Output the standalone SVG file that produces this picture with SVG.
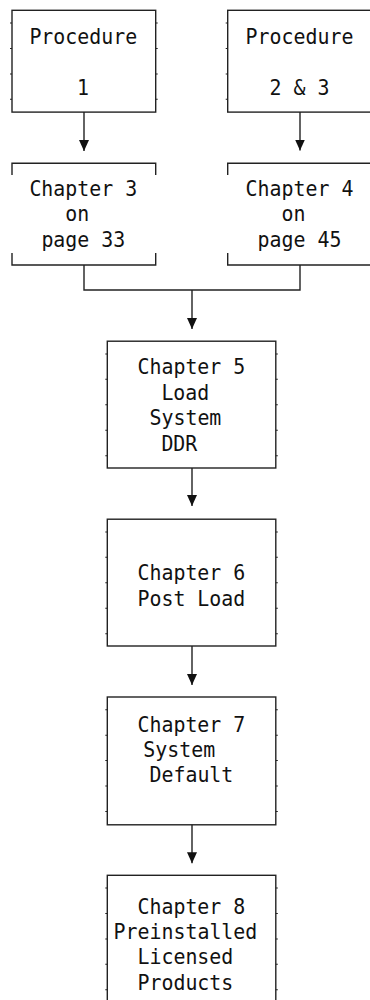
<svg xmlns="http://www.w3.org/2000/svg" width="370" height="1000" viewBox="0 0 370 1000">
  <defs>
    <style>
      .box { fill: none; stroke: #222; stroke-width: 1.4; }
      .nub { fill: none; stroke: #222; stroke-width: 2; stroke-dasharray: 0 12.2 1 12.25; }
      .wire { fill: none; stroke: #222; stroke-width: 1.4; }
      .arrow { marker-end: url(#head); }
      .t { font-family: "DejaVu Sans Mono", "Liberation Mono", monospace; font-size: 19.9px; fill: #111; }
    </style>
    <marker id="head" viewBox="0 0 11 10" refX="11" refY="5" markerWidth="11" markerHeight="10" markerUnits="userSpaceOnUse" orient="auto">
      <path d="M0,0 L11,5 L0,10 Z" fill="#111"/>
    </marker>
  </defs>
  <rect width="370" height="1000" fill="#fff"/>

  <!-- Procedure 1 -->
  <g id="proc1">
    <rect class="box" x="12" y="10.3" width="143.7" height="101.8"/>
    <line class="nub" x1="11" y1="10.3" x2="11" y2="112.1"/>
    <line class="nub" x1="156.7" y1="10.3" x2="156.7" y2="112.1"/>
    <text class="t" transform="matrix(1 0 0 1.07 29.4 44)">Procedure</text>
    <text class="t" transform="matrix(1 0 0 1.07 77 95)">1</text>
  </g>

  <!-- Procedure 2 & 3 -->
  <g id="proc23">
    <rect class="box" x="227.7" y="10.3" width="150" height="101.8"/>
    <line class="nub" x1="226.7" y1="10.3" x2="226.7" y2="112.1"/>
    <text class="t" transform="matrix(1 0 0 1.07 245.6 44)">Procedure</text>
    <text class="t" transform="matrix(1 0 0 1.07 269.5 95)">2 &amp; 3</text>
  </g>

  <!-- Chapter 3 -->
  <g id="ch3">
    <path class="box" d="M12,175 V163.3 H155.7 V175 M12,253 V265 H155.7 V253"/>
    <text class="t" transform="matrix(1 0 0 1.07 29.4 195.5)">Chapter 3</text>
    <text class="t" transform="matrix(1 0 0 1.07 65.3 221)">on</text>
    <text class="t" transform="matrix(1 0 0 1.07 41.4 246.5)">page 33</text>
  </g>

  <!-- Chapter 4 -->
  <g id="ch4">
    <path class="box" d="M227.7,175 V163.3 H378 M227.7,253 V265 H378"/>
    <text class="t" transform="matrix(1 0 0 1.07 245.6 195.5)">Chapter 4</text>
    <text class="t" transform="matrix(1 0 0 1.07 281.5 221)">on</text>
    <text class="t" transform="matrix(1 0 0 1.07 257.6 246.5)">page 45</text>
  </g>

  <!-- Chapter 5 -->
  <g id="ch5">
    <rect class="box" x="107.3" y="341.2" width="168.5" height="126.8"/>
    <line class="nub" x1="106.3" y1="341.2" x2="106.3" y2="468"/>
    <line class="nub" x1="276.8" y1="341.2" x2="276.8" y2="468"/>
    <text class="t" transform="matrix(1 0 0 1.07 137.5 374)">Chapter 5</text>
    <text class="t" transform="matrix(1 0 0 1.07 161.4 400)">Load</text>
    <text class="t" transform="matrix(1 0 0 1.07 149.5 425)">System</text>
    <text class="t" transform="matrix(1 0 0 1.07 161.4 450.5)">DDR</text>
  </g>

  <!-- Chapter 6 -->
  <g id="ch6">
    <rect class="box" x="107.3" y="519.2" width="168.5" height="126.8"/>
    <line class="nub" x1="106.3" y1="519.2" x2="106.3" y2="646"/>
    <line class="nub" x1="276.8" y1="519.2" x2="276.8" y2="646"/>
    <text class="t" transform="matrix(1 0 0 1.07 137.5 580)">Chapter 6</text>
    <text class="t" transform="matrix(1 0 0 1.07 137.5 605.5)">Post Load</text>
  </g>

  <!-- Chapter 7 -->
  <g id="ch7">
    <rect class="box" x="107.3" y="697" width="168.5" height="127.8"/>
    <line class="nub" x1="106.3" y1="697" x2="106.3" y2="824.8"/>
    <line class="nub" x1="276.8" y1="697" x2="276.8" y2="824.8"/>
    <text class="t" transform="matrix(1 0 0 1.07 137.5 732)">Chapter 7</text>
    <text class="t" transform="matrix(1 0 0 1.07 143.3 757)">System</text>
    <text class="t" transform="matrix(1 0 0 1.07 149.5 782)">Default</text>
  </g>

  <!-- Chapter 8 -->
  <g id="ch8">
    <rect class="box" x="107.3" y="875.3" width="168.5" height="140"/>
    <line class="nub" x1="106.3" y1="875.3" x2="106.3" y2="1010"/>
    <line class="nub" x1="276.8" y1="875.3" x2="276.8" y2="1010"/>
    <text class="t" transform="matrix(1 0 0 1.07 137.5 913.5)">Chapter 8</text>
    <text class="t" transform="matrix(1 0 0 1.07 113.6 939)">Preinstalled</text>
    <text class="t" transform="matrix(1 0 0 1.07 137.5 964)">Licensed</text>
    <text class="t" transform="matrix(1 0 0 1.07 137.5 989.5)">Products</text>
  </g>

  <!-- Connectors -->
  <g id="connectors">
    <path class="wire arrow" d="M84,112.1 V151"/>
    <path class="wire arrow" d="M300,112.1 V150.5"/>
    <path class="wire" d="M84,265 V290 H300 V265"/>
    <path class="wire arrow" d="M192,290 V329"/>
    <path class="wire arrow" d="M192,468 V506"/>
    <path class="wire arrow" d="M192,646 V685"/>
    <path class="wire arrow" d="M192,824.8 V863.3"/>
  </g>
</svg>
